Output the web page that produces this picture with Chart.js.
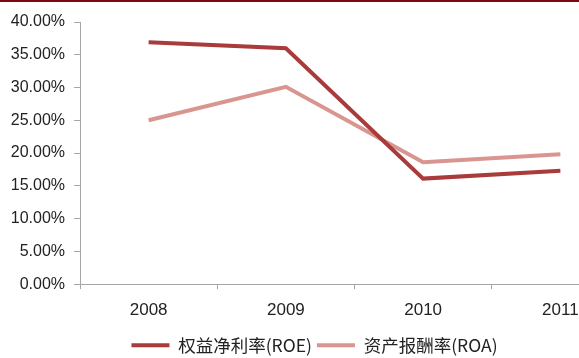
<!DOCTYPE html>
<html>
<head>
<meta charset="utf-8">
<script src="https://cdn.jsdelivr.net/npm/chart.js@4/dist/chart.umd.min.js"></script>
<style>
  html, body { margin: 0; padding: 0; background: #fff; overflow: hidden; }
  #wrap { position: relative; width: 640px; height: 364px; border-top: 2px solid #7a0a14; box-sizing: border-box; }
</style>
</head>
<body>
<div id="wrap"><canvas id="chart"></canvas></div>
<script>
// 年份与两条收益率序列
const years = ["2008", "2009", "2010", "2011"];
const roe = [0.369, 0.360, 0.161, 0.173];
const roa = [0.250, 0.301, 0.186, 0.198];
const seriesNames = ["权益净利率(ROE)", "资产报酬率(ROA)"];

const LATIN = "'Liberation Sans', Arial, sans-serif";
const AXIS_GRAY = "#a6a6a6";

const ctx = document.getElementById("chart").getContext("2d");
new Chart(ctx, {
    type: "line",
    data: {
        labels: years,
        datasets: [{
            label: seriesNames[0],
            data: roe,
            borderColor: "#a93b3b",
            backgroundColor: "#a93b3b",
            borderWidth: 4,
            pointRadius: 0,
            tension: 0,
        }, {
            label: seriesNames[1],
            data: roa,
            borderColor: "#d9958f",
            backgroundColor: "#d9958f",
            borderWidth: 4,
            pointRadius: 0,
            tension: 0,
        }],
    },
    options: {
        responsive: true,
        maintainAspectRatio: false,
        animation: false,
        layout: { padding: { top: 20, right: 11, left: 0, bottom: 0 } },
        scales: {
            x: {
                offset: true,
                grid: { offset: true, drawOnChartArea: false, tickLength: 5, color: AXIS_GRAY },
                border: { color: AXIS_GRAY, width: 1 },
                ticks: { color: "#222", padding: 11, font: { family: LATIN, size: 17 } },
            },
            y: {
                min: 0, max: 0.4,
                afterFit: (scale) => { scale.width = 80; },
                grid: { drawOnChartArea: false, tickLength: 6, color: AXIS_GRAY },
                border: { color: AXIS_GRAY, width: 1 },
                ticks: {
                    stepSize: 0.05,
                    color: "#222",
                    padding: 9,
                    font: { family: LATIN, size: 16 },
                    callback: (v) => (v * 100).toFixed(2) + "%",
                },
            },
        },
        plugins: {
            legend: {
                position: "bottom",
                labels: {
                    boxWidth: 38,
                    boxHeight: 4,
                    padding: 5,
                    color: "#222",
                    font: { family: "'Noto Sans CJK SC', " + LATIN, size: 17.5 },
                    // 图例只画一条细色带
                    generateLabels: (chart) => chart.data.datasets.map((ds, i) => ({
                        text: ds.label,
                        fillStyle: ds.borderColor,
                        strokeStyle: ds.borderColor,
                        lineWidth: 0,
                        fontColor: "#222",
                        hidden: false,
                        datasetIndex: i,
                    })),
                },
            },
            tooltip: { enabled: false },
        },
    },
});
</script>
</body>
</html>
